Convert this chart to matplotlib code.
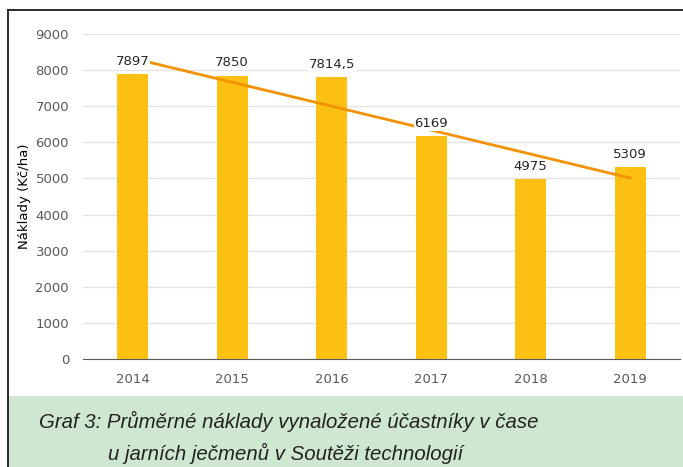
import numpy as np
import matplotlib.pyplot as plt
from matplotlib.patches import Rectangle
from matplotlib.lines import Line2D

years = ["2014", "2015", "2016", "2017", "2018", "2019"]
costs = [7897, 7850, 7814.5, 6169, 4975, 5309]
value_labels = ["7897", "7850", "7814,5", "6169", "4975", "5309"]
y_ticks = [0, 1000, 2000, 3000, 4000, 5000, 6000, 7000, 8000, 9000]
caption = ["Graf 3: Průměrné náklady vynaložené účastníky v čase",
           "u jarních ječmenů v Soutěži technologií"]

W, H = 683, 467
fig = plt.figure(figsize=(W / 100, H / 100), dpi=100)

# plot area in pixels: left 83, right 680, y=0 at 359, y=9000 at 34
ax = fig.add_axes([83 / W, 1 - 359 / H, (680 - 83) / W, (359 - 34) / H])
x = np.arange(len(years))
ax.bar(x, costs, width=0.31, color="#FBC012", zorder=2)

# linear trend line, as in the original spreadsheet chart
k, q = np.polyfit(x, costs, 1)
ax.plot([x[0], x[-1]], [k * x[0] + q, k * x[-1] + q],
        color="#F39200", lw=2, zorder=3)

for xi, v, lab in zip(x, costs, value_labels):
    ax.text(xi, v + 170, lab, ha="center", va="bottom", fontsize=9.5,
            color="#262626", zorder=4,
            bbox=dict(facecolor="white", edgecolor="none", pad=0.5))

ax.set_xlim(-0.5, len(years) - 0.5)
ax.set_ylim(0, 9000)
ax.set_yticks(y_ticks)
ax.set_xticks(x)
ax.set_xticklabels(years)
ax.tick_params(length=0, labelsize=9.5, labelcolor="#595959")
ax.tick_params(axis="y", pad=10)
ax.tick_params(axis="x", pad=10)
ax.grid(axis="y", color="#E3E3E3", lw=1, zorder=0)
for s in ["top", "right", "left"]:
    ax.spines[s].set_visible(False)
ax.spines["bottom"].set_color("#595959")
ax.set_ylabel("Náklady (Kč/ha)", fontsize=9.5, color="black", va="center")
ax.yaxis.set_label_coords(-58 / 597, 0.5)

# frame and caption box
fig.add_artist(Rectangle((8 / W, 0), 1 - 8 / W, 1 - 396 / H,
                         transform=fig.transFigure, facecolor="#CFE6D0",
                         edgecolor="none", zorder=0))
fig.add_artist(Line2D([8 / W, 8 / W], [0, 1 - 10 / H],
                      transform=fig.transFigure, color="#1a1a1a", lw=1.3))
fig.add_artist(Line2D([8 / W, 1], [1 - 10 / H, 1 - 10 / H],
                      transform=fig.transFigure, color="#1a1a1a", lw=1.3))

cap_font = ["Liberation Sans", "DejaVu Sans"]
fig.text(39 / W, 1 - 421 / H, caption[0], ha="left", va="center",
         fontsize=14.7, style="italic", family=cap_font, color="#222222")
fig.text(108 / W, 1 - 453 / H, caption[1], ha="left", va="center",
         fontsize=14.7, style="italic", family=cap_font, color="#222222")

fig.savefig("out.png", dpi=100)
